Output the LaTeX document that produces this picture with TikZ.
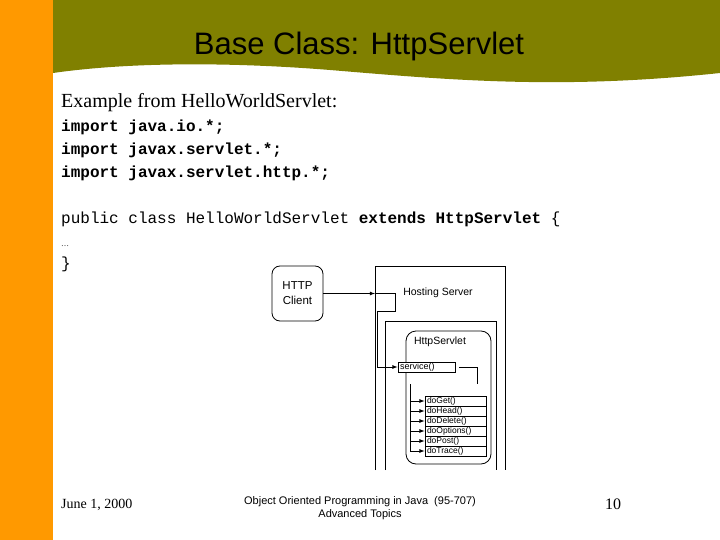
\documentclass[tikz,border=0pt]{standalone}
\usepackage{fontspec}
\setmainfont{Liberation Serif}
\setsansfont{Liberation Sans}
\setmonofont{Liberation Mono}
\usetikzlibrary{positioning}

\definecolor{slideorange}{RGB}{255,153,0}
\definecolor{slideolive}{RGB}{128,128,0}

\begin{document}
\begin{tikzpicture}[x=1pt,y=-1pt,
    box/.style={draw,line width=.8pt,inner sep=0pt},
    meth/.style={box,fill=white,minimum width=61pt,minimum height=10pt,inner xsep=2pt,
        text width=57pt,align=left,font=\sffamily\fontsize{8.5}{9}\selectfont},
    code/.style={anchor=base west,inner sep=0pt,font=\ttfamily\fontsize{16}{16}\selectfont},
    lbl/.style={inner sep=0pt,font=\sffamily\fontsize{10.5}{12}\selectfont},
    wire/.style={line width=.8pt},
    arr/.style={wire,-latex}]

    \useasboundingbox (0,0) rectangle (720,540);

    %slide background: orange strip and olive wave
    \fill[slideorange] (0,0) rectangle (53,540);
    \fill[slideolive] (53,0) -- (720,0) -- (720,73)
        .. controls (560,90) and (450,80) .. (330,70)
        .. controls (230,62) and (130,62) .. (53,73) -- cycle;

    \node[anchor=base,inner sep=0pt,font=\sffamily\fontsize{31}{31}\selectfont]
        (title) at (359,55) {Base Class: HttpServlet};

    %text and code lines
    \node[anchor=base west,inner sep=0pt,font=\fontsize{20}{20}\selectfont]
        (intro) at (61,108) {Example from HelloWorldServlet:};
    \node[code] (imp1) at (61,132) {\textbf{import java.io.*;}};
    \node[code] (imp2) at (61,155) {\textbf{import javax.servlet.*;}};
    \node[code] (imp3) at (61,178) {\textbf{import javax.servlet.http.*;}};
    \node[code] (decl) at (61,224) {public class HelloWorldServlet \textbf{extends HttpServlet} \{};
    \node[code,font=\fontsize{8}{8}\selectfont] (dots) at (61,247) {\dots};
    \node[code] (close) at (61,268) {\}};

    %hosting server and its container (open at the bottom)
    \draw[wire] (375,470) |- (505,266) -- (505,470);
    \draw[wire] (385,470) |- (496,321) -- (496,470);
    \node[lbl] (hostlbl) at (438,293) {Hosting Server};

    \node[box,rounded corners=8pt,minimum width=51pt,minimum height=55pt,align=center,
        font=\sffamily\fontsize{11.5}{15}\selectfont] (client) at (297.5,293.5) {HTTP\\Client};

    \node[box,rounded corners=10pt,minimum width=85pt,minimum height=133pt]
        (servlet) at (448.5,397.5) {};
    \node[lbl] (servletlbl) at (440,342) {HttpServlet};

    \node[meth,minimum width=57pt,text width=53pt,font=\sffamily\fontsize{9}{9}\selectfont]
        (service) at (426.5,367) {service()};

    \foreach \m [count=\i] in {doGet(),doHead(),doDelete(),doOptions(),doPost(),doTrace()}
        \node[meth] (m\i) at (455.5,391+10*\i) {\m};

    %putting connectors
    \coordinate (hin) at (375,293.5);
    \coordinate (bus) at (410,384);
    \draw[arr] (client.east) -- (hin);
    \draw[arr] (hin) -- ++(20,0) |- ++(-18,18) |- (service.west);
    \draw[wire] ([xshift=4pt]service.east) -| ++(18,17);
    \draw[wire] (bus) -- (bus |- m6.west);
    \foreach \i in {1,...,6}
        \draw[arr] (bus |- m\i.west) -- (m\i.west);

    %footer
    \node[anchor=base west,inner sep=0pt,font=\fontsize{14}{14}\selectfont]
        (date) at (61,508) {June 1, 2000};
    \node[align=center,inner sep=0pt,font=\sffamily\fontsize{11}{13}\selectfont]
        (course) at (360,508) {Object Oriented Programming in Java~~(95-707)\\Advanced Topics};
    \node[anchor=base,inner sep=0pt,font=\fontsize{16}{16}\selectfont]
        (page) at (613,509) {10};
\end{tikzpicture}
\end{document}
